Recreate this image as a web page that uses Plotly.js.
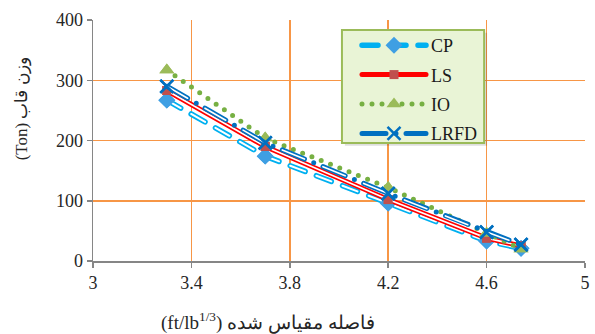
<!DOCTYPE html>
<html>
<head>
<meta charset="utf-8">
<script src="https://cdn.plot.ly/plotly-3.0.1.min.js"></script>
<style>
html,body{margin:0;padding:0;background:#fff;}
#chart{width:595px;height:334px;}
path.js-line{stroke-linecap:round;}
</style>
</head>
<body>
<div id="chart"></div>
<script>
var distance = [3.3, 3.7, 4.2, 4.6, 4.74];
var cp   = [267, 174, 96, 33, 21];
var ls   = [283, 190, 102, 38, 25];
var io   = [317, 204, 122, 46, 20];
var lrfd = [290, 196, 112, 48, 27];
var seriesNames = ['CP', 'LS', 'IO', 'LRFD'];
var xTicks = [3, 3.4, 3.8, 4.2, 4.6, 5];
var yTicks = [0, 100, 200, 300, 400];

function outer(name, y, color, width, dash, marker) {
  return {x: distance, y: y, name: name, legendgroup: name, mode: 'lines+markers',
    line: {color: color, width: width, dash: dash}, marker: marker};
}
function inner(name, y, width, dash) {
  return {x: distance, y: y, legendgroup: name, showlegend: false, mode: 'lines',
    hoverinfo: 'skip', line: {color: '#ffffff', width: width, dash: dash}};
}
function marks(name, y, marker) {
  return {x: distance, y: y, legendgroup: name, showlegend: false, mode: 'markers',
    marker: marker};
}

var mCP = {symbol: 'diamond', size: 13, color: '#3f9fe3'};
var mLS = {symbol: 'square', size: 9, color: '#c0504d'};
var mIO = {symbol: 'triangle-up', size: 13, color: '#9bbb59'};
var mLR = {symbol: 'x-thin', size: 13, color: '#0070c0', line: {color: '#0070c0', width: 2.5}};

var data = [
  outer(seriesNames[0], cp, '#00b0f0', 5.5, '16px,12px', mCP),
  inner(seriesNames[0], cp, 2, '16px,12px'),
  marks(seriesNames[0], cp, mCP),
  outer(seriesNames[1], ls, '#ff0000', 5, 'solid', mLS),
  inner(seriesNames[1], ls, 1.6, 'solid'),
  marks(seriesNames[1], ls, mLS),
  outer(seriesNames[2], io, '#77b043', 5, '0px,10px', mIO),
  marks(seriesNames[2], io, mIO),
  outer(seriesNames[3], lrfd, '#0070c0', 5, '24px,10px,0px,10px', mLR),
  inner(seriesNames[3], lrfd, 1.6, '24px,20px'),
  marks(seriesNames[3], lrfd, mLR)
];

var fontFam = 'Liberation Serif';
var layout = {
  width: 595, height: 334,
  margin: {l: 93, r: 10, t: 20, b: 73},
  paper_bgcolor: '#ffffff', plot_bgcolor: '#ffffff',
  font: {family: fontFam, size: 18, color: '#262626'},
  showlegend: true,
  legend: {x: 0.7927, y: 0.971, xanchor: 'right', yanchor: 'top',
    bgcolor: 'rgba(0,0,0,0)', borderwidth: 0,
    font: {family: fontFam, size: 18, color: '#1a1a1a'},
    tracegroupgap: 3, itemwidth: 64},
  shapes: [
    {type: 'rect', xref: 'paper', yref: 'paper', layer: 'above',
      x0: 0.512, x1: 0.801, y0: 0.478, y1: 0.947,
      line: {width: 0}, fillcolor: 'rgba(0,0,0,0.13)'},
    {type: 'rect', xref: 'paper', yref: 'paper', layer: 'above',
      x0: 0.506, x1: 0.795, y0: 0.490, y1: 0.959,
      line: {color: '#9bbb59', width: 2}, fillcolor: '#e9f4d6'}
  ],
  xaxis: {range: [3, 5], tickvals: xTicks, ticktext: xTicks.map(String),
    showgrid: true, gridcolor: '#f79646', gridwidth: 1.5,
    showline: true, linecolor: '#868686', linewidth: 1.5,
    ticks: 'outside', ticklen: 5, tickcolor: '#868686', tickwidth: 1.5,
    zeroline: false, fixedrange: true, tickfont: {family: fontFam, size: 18}},
  yaxis: {range: [0, 400], tickvals: yTicks, ticktext: yTicks.map(String),
    showgrid: true, gridcolor: '#f79646', gridwidth: 1.5,
    showline: true, linecolor: '#868686', linewidth: 1.5,
    ticks: 'outside', ticklen: 5, tickcolor: '#868686', tickwidth: 1.5,
    zeroline: false, fixedrange: true, tickfont: {family: fontFam, size: 18}},
  annotations: [
    {xref: 'paper', yref: 'paper', x: 0.356, y: -0.253, xanchor: 'center', yanchor: 'middle',
      showarrow: false, text: '(ft/lb<sup>1/3</sup>) فاصله مقیاس شده', font: {family: fontFam, size: 19}},
    {xref: 'paper', yref: 'paper', x: -0.144, y: 0.63, xanchor: 'center', yanchor: 'middle',
      showarrow: false, textangle: -90, text: '(Ton) وزن قاب', font: {family: fontFam, size: 17}}
  ]
};

Plotly.newPlot('chart', data, layout, {displayModeBar: false, staticPlot: true});
</script>
</body>
</html>
